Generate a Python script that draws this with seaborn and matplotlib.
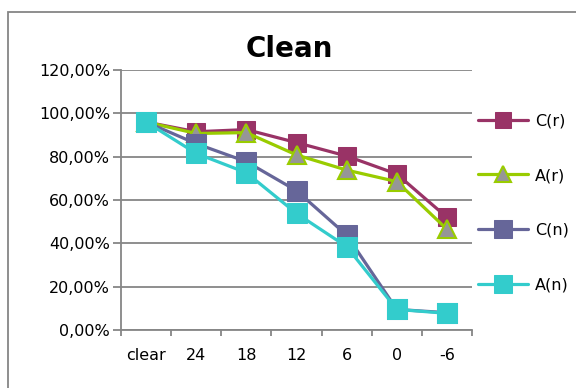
import numpy as np
import pandas as pd
import matplotlib
matplotlib.use("Agg")
import matplotlib.pyplot as plt
import matplotlib.patches as mpatches
from matplotlib.ticker import FuncFormatter, FixedLocator
import seaborn as sns

# %% data (percent)
categories = ["clear", "24", "18", "12", "6", "0", "-6"]
c_r = [96.0, 91.5, 92.5, 86.5, 80.3, 72.0, 52.0]
a_r = [96.0, 90.7, 91.1, 80.8, 73.8, 68.5, 46.5]
c_n = [96.0, 86.0, 77.7, 64.3, 43.8, 9.5, 8.0]
a_n = [96.0, 81.5, 72.6, 53.8, 38.5, 9.5, 7.7]
series_names = ["C(r)", "A(r)", "C(n)", "A(n)"]

# %% style
sns.set_style("white")
plt.rcParams["font.family"] = ["DejaVu Sans"]
plt.rcParams["text.color"] = "black"
plt.rcParams["xtick.color"] = "black"
plt.rcParams["ytick.color"] = "black"
grey = "#868686"

styles = {
    "C(r)": dict(color="#993366", marker="s", markersize=13, markerfacecolor="#993366", markeredgecolor="#993366"),
    "A(r)": dict(color="#99CC00", marker="^", markersize=13, markerfacecolor="#969696", markeredgecolor="#99CC00", markeredgewidth=1.5),
    "C(n)": dict(color="#666699", marker="s", markersize=14.5, markerfacecolor="#666699", markeredgecolor="#666699"),
    "A(n)": dict(color="#33CCCC", marker="s", markersize=14.5, markerfacecolor="#33CCCC", markeredgecolor="#33CCCC"),
}

df = pd.DataFrame({"pos": np.arange(len(categories)), "C(r)": c_r, "A(r)": a_r, "C(n)": c_n, "A(n)": a_n})

fig = plt.figure(figsize=(5.76, 3.88), dpi=100)
ax = fig.add_axes([121 / 576, 1 - 330 / 388, (472 - 121) / 576, (330 - 70) / 388])

for name in series_names:
    sns.lineplot(data=df, x="pos", y=name, ax=ax, linewidth=2.3, label=name, **styles[name])

ax.set_xlim(-0.5, len(categories) - 0.5)
ax.set_ylim(0, 120)
ax.set_yticks(np.arange(0, 121, 20))
ax.yaxis.set_major_formatter(FuncFormatter(lambda v, p: f"{v:.2f}%".replace(".", ",")))
ax.grid(axis="y", color=grey, linewidth=1.3)
ax.set_axisbelow(True)

# category boundaries as ticks, labels at centres
ax.xaxis.set_major_locator(FixedLocator(np.arange(-0.5, len(categories), 1.0)))
ax.xaxis.set_minor_locator(FixedLocator(np.arange(len(categories))))
ax.set_xticklabels([], minor=False)
ax.set_xticklabels(categories, minor=True)
ax.tick_params(axis="x", which="major", length=4, color=grey, width=1.3, direction="out", bottom=True)
ax.tick_params(axis="x", which="minor", length=0, pad=13, labelsize=11.5, labelcolor="black")
ax.tick_params(axis="y", length=6, color=grey, width=1.3, direction="out", left=True, pad=2,
               labelsize=11.5, labelcolor="black")

ax.set_xlabel("")
ax.set_ylabel("")
for s in ["top", "right"]:
    ax.spines[s].set_visible(False)
for s in ["left", "bottom"]:
    ax.spines[s].set_color(grey)
    ax.spines[s].set_linewidth(1.3)

ax.legend_.remove()
handles, labels = ax.get_legend_handles_labels()
leg = fig.legend(handles, labels, loc="center left", bbox_to_anchor=(478 / 576, 1 - 203 / 388),
                 frameon=False, fontsize=11.5, handlelength=3.1, handletextpad=0.45,
                 labelspacing=2.5, borderpad=0, borderaxespad=0, markerscale=0.85)
for t in leg.get_texts():
    t.set_color("black")

fig.text(289 / 576, 1 - 49 / 388, "Clean", ha="center", va="center", fontsize=20,
         fontweight="bold", color="black")

# outer chart border
fig.patches.append(mpatches.Rectangle((8 / 576, -0.2), 1.2, 1.2 - 12 / 388,
                                      transform=fig.transFigure, fill=False, edgecolor=grey, linewidth=1.3))

fig.savefig("out.png", dpi=100)
